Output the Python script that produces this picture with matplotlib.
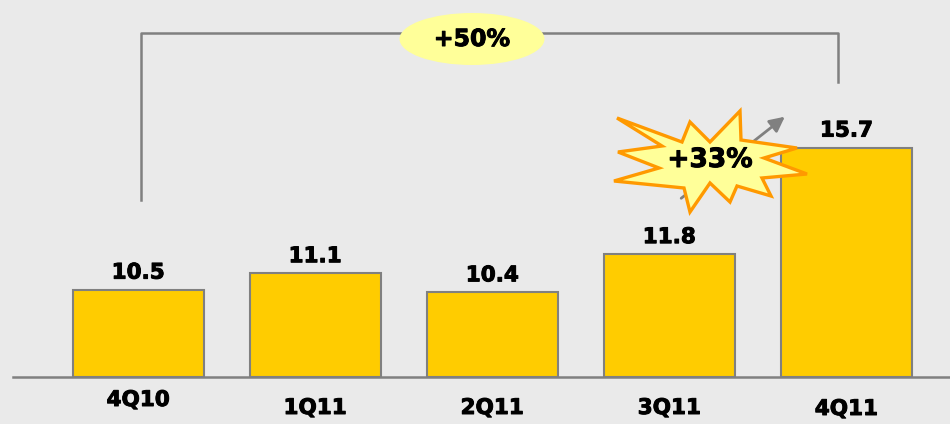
import matplotlib.pyplot as plt
import matplotlib.patheffects as pe
from matplotlib.patches import Ellipse, Polygon
from matplotlib.transforms import blended_transform_factory

quarters = ["4Q10", "1Q11", "2Q11", "3Q11", "4Q11"]
values = [10.5, 11.1, 10.4, 11.8, 15.7]
label_drop = [23, 31, 31, 31, 32]  # px below baseline for quarter labels

W, H = 950, 424
BG = "#EAEAEA"
BAR = "#FFCC00"
GREY = "#808080"
PALE = "#FFFF99"
ORANGE = "#FF9900"
bold = dict(fontweight="bold",
            path_effects=[pe.withStroke(linewidth=0.7, foreground="black")])

fig = plt.figure(figsize=(W / 100, H / 100), dpi=100, facecolor=BG)
base_px = 377
ax = fig.add_axes([0, (H - base_px) / H, 1, base_px / H])
ax.set_facecolor(BG)
ax.axis("off")
ax.set_xlim(-0.78, 4.585)
ax.set_ylim(7.3, 21.1)


def px(x, y):
    # reference pixel -> axes fraction
    return x / W, (base_px - y) / base_px


x = list(range(len(quarters)))
ax.bar(x, [v - 7.3 for v in values], bottom=7.3, width=0.74, color=BAR,
       edgecolor=GREY, linewidth=1.5, zorder=2)
ax.plot([13 / W, 1], [0, 0], transform=ax.transAxes, color=GREY, lw=1.8,
        zorder=3, clip_on=False)

bt = blended_transform_factory(ax.transData, ax.transAxes)
for i, (q, v) in enumerate(zip(quarters, values)):
    ax.annotate(f"{v:.1f}", xy=(i, v), xytext=(0, 5), textcoords="offset points",
                ha="center", va="bottom", fontsize=15.5, **bold)
    ax.annotate(q, xy=(i, 0), xycoords=bt, xytext=(0, -label_drop[i] * 0.72),
                textcoords="offset points", ha="center", va="center",
                fontsize=15.5, annotation_clip=False, **bold)

# +50% bracket
ta = ax.transAxes
ax.plot(*zip(px(141, 200), px(141, 33), px(838, 33), px(838, 82)),
        transform=ta, color=GREY, lw=1.8, zorder=1)
cx, cy = px(472, 39)
ax.add_patch(Ellipse((cx, cy), 145 / W, 52 / base_px, transform=ta,
                     facecolor=PALE, edgecolor="none", zorder=4))
ax.text(cx, cy, "+50%", transform=ta, ha="center", va="center",
        fontsize=17, zorder=5, **bold)

# +33% burst with arrow
ax.annotate("", xy=px(787, 115), xytext=px(679, 200), xycoords=ta, textcoords=ta,
            arrowprops=dict(arrowstyle="-|>,head_length=0.9,head_width=0.45",
                            color=GREY, lw=2), zorder=4)
burst = [(617, 118), (682, 142), (690, 122), (710, 142), (740, 111), (741, 140),
         (797, 148), (764, 158), (807, 174), (762, 178), (771, 196), (737, 186),
         (730, 202), (710, 183), (690, 212), (684, 188), (614, 181), (659, 168),
         (618, 152), (662, 146)]
ax.add_patch(Polygon([px(a, b) for a, b in burst], closed=True, transform=ta,
                     facecolor=PALE, edgecolor=ORANGE, lw=2.4, joinstyle="miter",
                     zorder=5))
ax.text(*px(710, 160), "+33%", transform=ta, ha="center", va="center",
        fontsize=19, zorder=6, **bold)

fig.savefig("out.png", dpi=100, facecolor=BG)
